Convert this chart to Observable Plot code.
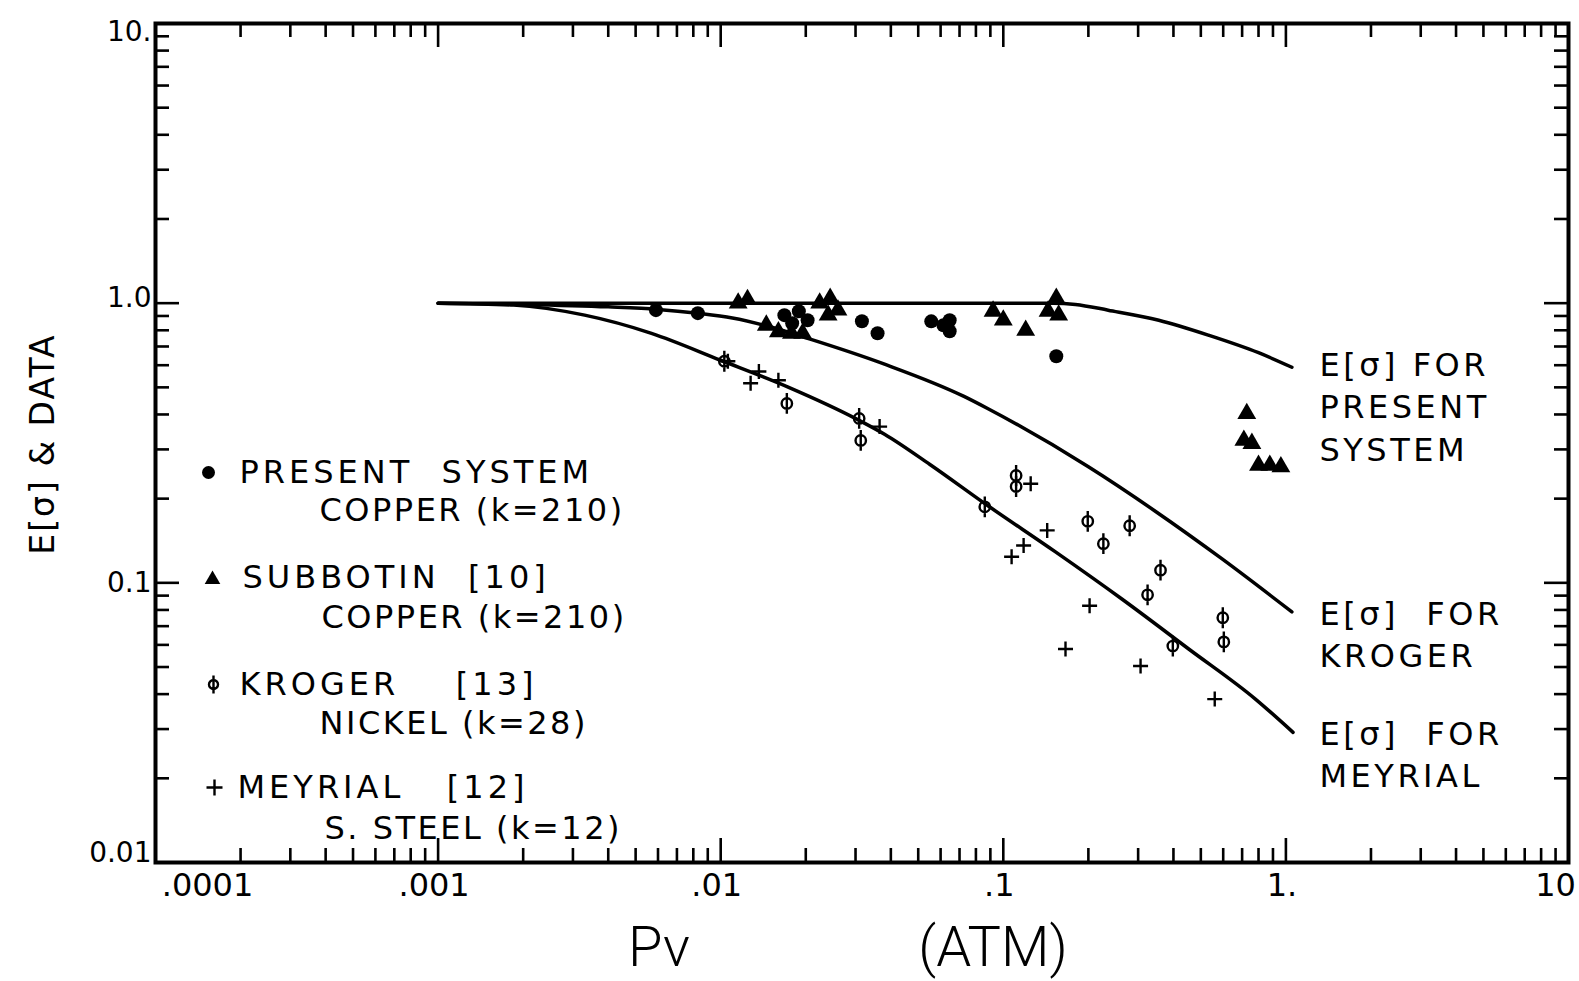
<!DOCTYPE html>
<html><head><meta charset="utf-8">
<script src="https://cdn.jsdelivr.net/npm/d3@7"></script>
<script src="https://cdn.jsdelivr.net/npm/@observablehq/plot@0.6"></script>
<style>
html,body{margin:0;padding:0;background:#fff;}
#chart svg{display:block;}
</style></head><body><div id="chart"></div>
<script>
// ---------- data ----------
const presentX = [0.0059, 0.0083, 0.0168, 0.0189, 0.0203, 0.0179, 0.0316, 0.0359, 0.0556, 0.0614, 0.0646, 0.0646, 0.154];
const presentY = [0.944, 0.921, 0.906, 0.936, 0.869, 0.848, 0.862, 0.781, 0.861, 0.834, 0.869, 0.794, 0.646];

const subbotinX = [0.01153, 0.01244, 0.0145, 0.016, 0.0178, 0.0195, 0.0224, 0.0244, 0.024, 0.026, 0.092, 0.1, 0.12, 0.154, 0.144, 0.157, 0.727, 0.71, 0.758, 0.80, 0.877, 0.96];
const subbotinY = [1.0, 1.03, 0.834, 0.79, 0.78, 0.78, 1.0, 1.04, 0.906, 0.944, 0.936, 0.87, 0.80, 1.04, 0.936, 0.906, 0.403, 0.323, 0.315, 0.263, 0.263, 0.26];

const krogerX = [0.0103, 0.01714, 0.0309, 0.0313, 0.111, 0.111, 0.086, 0.199, 0.226, 0.28, 0.36, 0.324, 0.398, 0.598, 0.603];
const krogerY = [0.62, 0.438, 0.387, 0.323, 0.242, 0.221, 0.187, 0.166, 0.138, 0.16, 0.111, 0.0906, 0.0594, 0.075, 0.0615];

const meyrialX = [0.0106, 0.01365, 0.01276, 0.016, 0.0365, 0.125, 0.143, 0.118, 0.107, 0.202, 0.166, 0.306, 0.56];
const meyrialY = [0.62, 0.57, 0.517, 0.53, 0.362, 0.226, 0.154, 0.136, 0.124, 0.0828, 0.058, 0.0504, 0.0384];

const presentCurveX = [0.001, 0.01, 0.1, 0.15, 0.18, 0.235, 0.355, 0.533, 0.80, 1.05];
const presentCurveY = [1.0, 1.0, 1.0, 1.0, 0.99, 0.944, 0.869, 0.768, 0.665, 0.59];

const krogerCurveX = [0.001, 0.002, 0.004, 0.006, 0.0083, 0.011, 0.0145, 0.0206, 0.038, 0.0726, 0.088, 0.2, 0.346, 0.593, 1.05];
const krogerCurveY = [1.0, 0.99, 0.97, 0.95, 0.92, 0.885, 0.83, 0.745, 0.605, 0.464, 0.42, 0.26, 0.18, 0.122, 0.0787];

const meyrialCurveX = [0.001, 0.00185, 0.0033, 0.00569, 0.01, 0.0174, 0.0303, 0.038, 0.055, 0.088, 0.153, 0.262, 0.453, 0.78, 1.06];
const meyrialCurveY = [1.0, 0.984, 0.906, 0.78, 0.625, 0.50, 0.385, 0.34, 0.265, 0.189, 0.129, 0.0877, 0.058, 0.0384, 0.0292];

const xMajor = [1e-4, 1e-3, 1e-2, 1e-1, 1, 10];
const xTickLabels = [".0001", ".001", ".01", ".1", "1.", "10"];
const yMajor = [0.01, 0.1, 1, 10];
const yTickLabels = ["0.01", "0.1", "1.0", "10."];

const legendNames = ["PRESENT\u00a0\u00a0SYSTEM", "SUBBOTIN\u00a0\u00a0[10]", "KROGER\u00a0\u00a0\u00a0\u00a0[13]", "MEYRIAL\u00a0\u00a0\u00a0[12]"];
const legendMaterials = ["COPPER (k=210)", "COPPER (k=210)", "NICKEL (k=28)", "S. STEEL (k=12)"];
const curveLabels = ["E[σ] FOR\nPRESENT\nSYSTEM", "E[σ]\u00a0\u00a0FOR\nKROGER", "E[σ]\u00a0\u00a0FOR\nMEYRIAL"];

// ---------- layout ----------
const W = 1579, H = 981;
const mL = 155, mR = 11, mT = 23, mB = 119;
const fw = W - mL - mR, fh = H - mT - mB;
const FONT = "DejaVu Sans";

const rows = (xs, ys) => xs.map((x, i) => ({x, y: ys[i]}));
const minorTicks = (lo, hi) => { const o = []; for (let e = lo; e < hi; e++) for (let m = 2; m <= 9; m++) o.push(+(m * Math.pow(10, e)).toPrecision(6)); return o; };
const xMinor = minorTicks(-4, 1);
const yMinor = minorTicks(-2, 1);

const phiSymbol = {draw(ctx, size) { const r = Math.sqrt(size / Math.PI); ctx.moveTo(r, 0); ctx.arc(0, 0, r, 0, 2 * Math.PI); ctx.moveTo(0, -2 * r); ctx.lineTo(0, 2 * r); }};
const plusSymbol = {draw(ctx, size) { const r = Math.sqrt(size / Math.PI); ctx.moveTo(-r, 0); ctx.lineTo(r, 0); ctx.moveTo(0, -r); ctx.lineTo(0, r); }};

const minorLen = 14, majorLen = 24, tw = 2.6;
const marks = [
  // ticks, all pointing inward on all four sides
  Plot.tickX(xMinor, {x: d => d, insetTop: fh - minorLen, strokeWidth: tw}),
  Plot.tickX(xMinor, {x: d => d, insetBottom: fh - minorLen, strokeWidth: tw}),
  Plot.tickX(xMajor, {x: d => d, insetTop: fh - majorLen, strokeWidth: tw}),
  Plot.tickX(xMajor, {x: d => d, insetBottom: fh - majorLen, strokeWidth: tw}),
  Plot.tickY(yMinor, {y: d => d, insetRight: fw - minorLen, strokeWidth: tw}),
  Plot.tickY(yMinor, {y: d => d, insetLeft: fw - minorLen, strokeWidth: tw}),
  Plot.tickY(yMajor, {y: d => d, insetRight: fw - majorLen, strokeWidth: tw}),
  Plot.tickY(yMajor, {y: d => d, insetLeft: fw - majorLen, strokeWidth: tw}),
  Plot.frame({stroke: "black", strokeWidth: 4}),

  // theory curves
  Plot.line(rows(presentCurveX, presentCurveY), {x: "x", y: "y", stroke: "black", strokeWidth: 3.5, curve: "monotone-x"}),
  Plot.line(rows(krogerCurveX, krogerCurveY), {x: "x", y: "y", stroke: "black", strokeWidth: 3.5, curve: "monotone-x"}),
  Plot.line(rows(meyrialCurveX, meyrialCurveY), {x: "x", y: "y", stroke: "black", strokeWidth: 3.5, curve: "monotone-x"}),

  // data points
  Plot.dot(rows(presentX, presentY), {x: "x", y: "y", r: 7, fill: "black", stroke: "none"}),
  Plot.dot(rows(subbotinX, subbotinY), {x: "x", y: "y", r: 7, symbol: "triangle", fill: "black", stroke: "none"}),
  Plot.dot(rows(krogerX, krogerY), {x: "x", y: "y", r: 5.2, symbol: phiSymbol, fill: "none", stroke: "black", strokeWidth: 2.4}),
  Plot.dot(rows(meyrialX, meyrialY), {x: "x", y: "y", r: 7.5, symbol: plusSymbol, fill: "none", stroke: "black", strokeWidth: 2.4}),

  // x tick labels
  Plot.text([xMajor[0]], {x: d => d, text: [xTickLabels[0]], frameAnchor: "bottom", lineAnchor: "middle", dy: 23, dx: 52, fontSize: 32}),
  Plot.text(xMajor.slice(1, 5), {x: d => d, text: xTickLabels.slice(1, 5), frameAnchor: "bottom", lineAnchor: "middle", dy: 23, dx: -4, fontSize: 32}),
  Plot.text([xMajor[5]], {x: d => d, text: [xTickLabels[5]], frameAnchor: "bottom", lineAnchor: "middle", dy: 23, dx: -13, fontSize: 32}),

  // axis titles
  Plot.text(["Pv"], {text: d => d, frameAnchor: "bottom", lineAnchor: "middle", dx: -203, dy: 86, fontSize: 56, fontFamily: "Roboto", fontWeight: 300}),
  Plot.text(["(ATM)"], {text: d => d, frameAnchor: "bottom", lineAnchor: "middle", dx: 131, dy: 86, fontSize: 56, fontFamily: "Roboto", fontWeight: 300}),
  Plot.text(["E[σ] & DATA"], {text: d => d, frameAnchor: "left", textAnchor: "middle", lineAnchor: "middle", rotate: -90, dx: -112, dy: 1, fontSize: 33}),

  // legend markers
  Plot.dot([0], {frameAnchor: "top-left", dx: 53, dy: 449, r: 6.5, fill: "black", stroke: "none"}),
  Plot.dot([0], {frameAnchor: "top-left", dx: 57, dy: 556, r: 5.8, symbol: "triangle", fill: "black", stroke: "none"}),
  Plot.dot([0], {frameAnchor: "top-left", dx: 58, dy: 661, r: 4.5, symbol: phiSymbol, fill: "none", stroke: "black", strokeWidth: 2.4}),
  Plot.dot([0], {frameAnchor: "top-left", dx: 59, dy: 764, r: 8, symbol: plusSymbol, fill: "none", stroke: "black", strokeWidth: 2.4}),
];

// y tick labels (each nudged like the hand lettering)
const yLabelNudge = [-9, 0, -5, 9];
yMajor.forEach((v, i) => marks.push(Plot.text([v], {y: d => d, text: [yTickLabels[i]], frameAnchor: "left", textAnchor: "end", lineAnchor: "middle", dx: -4, dy: yLabelNudge[i], fontSize: 28})));

// legend text lines
const nameOffsets = [[84, 449], [87, 554], [84, 661], [82, 764]];
const matOffsets = [[164, 487], [166, 594], [164, 700], [169, 805]];
legendNames.forEach((t, i) => marks.push(Plot.text([t], {text: d => d, frameAnchor: "top-left", textAnchor: "start", lineAnchor: "middle", dx: nameOffsets[i][0], dy: nameOffsets[i][1], fontSize: 32})));
legendMaterials.forEach((t, i) => marks.push(Plot.text([t], {text: d => d, frameAnchor: "top-left", textAnchor: "start", lineAnchor: "middle", dx: matOffsets[i][0], dy: matOffsets[i][1], fontSize: 32})));

// curve labels on the right
const labelOffsets = [[1164, 381], [1164, 609], [1164, 729]];
curveLabels.forEach((t, i) => marks.push(Plot.text([t], {text: d => d, frameAnchor: "top-left", textAnchor: "start", lineAnchor: "middle", lineHeight: 1.33, dx: labelOffsets[i][0], dy: labelOffsets[i][1], fontSize: 32})));

const chart = Plot.plot({
  width: W, height: H,
  marginLeft: mL, marginRight: mR, marginTop: mT, marginBottom: mB,
  x: {type: "log", domain: [1e-4, 10], axis: null},
  y: {type: "log", domain: [0.01, 10], axis: null},
  style: {fontFamily: FONT, color: "black", background: "white"},
  marks
});
document.getElementById("chart").appendChild(chart);

// letter spacing for the hand-lettered looking labels
const nameSet = new Set(legendNames);
const matSet = new Set(legendMaterials);
const curveSet = new Set(curveLabels.map(s => s.replace(/\n/g, "")));
d3.select(chart).selectAll("text").each(function () {
  const t = this.textContent;
  if (nameSet.has(t)) this.setAttribute("letter-spacing", "4");
  else if (matSet.has(t)) this.setAttribute("letter-spacing", "2.5");
  else if (curveSet.has(t)) this.setAttribute("letter-spacing", "3.5");
  else if (t === "E[σ] & DATA") this.setAttribute("letter-spacing", "2");
});
</script>
</body></html>
